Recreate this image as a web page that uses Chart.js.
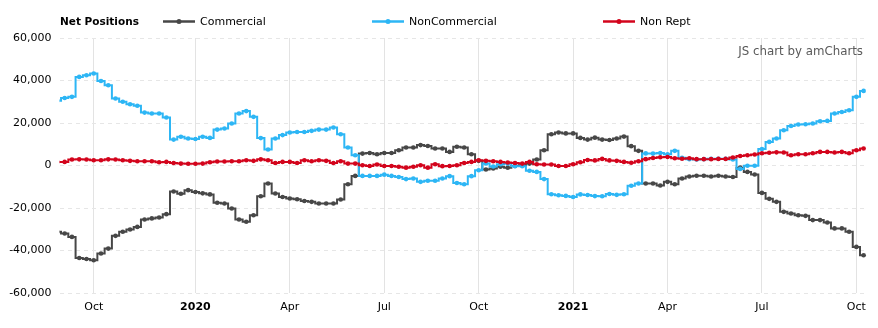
<!DOCTYPE html>
<html>
<head>
<meta charset="utf-8">
<script src="https://cdn.jsdelivr.net/npm/chart.js@4.4.1/dist/chart.umd.min.js"></script>
<style>
  html, body { margin: 0; padding: 0; background: #fff; }
  #wrap { width: 878px; height: 328px; }
</style>
</head>
<body>
<div id="wrap"><canvas id="cot" width="878" height="328"></canvas></div>
<script>
// weekly report dates (Tuesdays), 27 Aug 2019 .. 12 Oct 2021
const firstReport = Date.UTC(2019, 7, 27);
const reportDates = [];
for (let i = 0; i < 112; i++) reportDates.push(new Date(firstReport + i * 7 * 86400000));

const monthNames = ["Jan", "Feb", "Mar", "Apr", "May", "Jun", "Jul", "Aug", "Sep", "Oct", "Nov", "Dec"];
const legendTitle = "Net Positions";
const yTicks = [-60000, -40000, -20000, 0, 20000, 40000, 60000];

const commercial = [
  -31200, -32000, -33600, -43500, -44000, -44600, -41400, -39100, -33100, -31200,
  -30100, -28900, -25400, -24900, -24500, -22900, -12200, -13300, -11600, -12500,
  -13100, -13600, -17500, -17900, -20200, -25400, -26500, -23400, -14500, -8500,
  -13200, -14800, -15500, -15900, -16700, -17100, -17900, -17900, -17900, -16000,
  -8800, -4900, 5600, 5900, 5300, 5900, 5900, 7200, 8500, 8500,
  9600, 9200, 8000, 8000, 6400, 8800, 8500, 5300, 2200, -1900,
  -1400, -600, -1000, -200, 100, 900, 2800, 7200, 14700, 15500,
  15100, 15100, 13000, 12200, 13100, 12200, 12000, 12700, 13600, 9100,
  6900, -8500, -8500, -9400, -7700, -8800, -6100, -5200, -4800, -4800,
  -5200, -4800, -5200, -5400, -1000, -3000, -4200, -12900, -15700, -17100,
  -21800, -22600, -23400, -23700, -25700, -25700, -26800, -29600, -29600, -31200,
  -38300, -42200
];

const nonCommercial = [
  30500, 31800, 32300, 41700, 42500, 43300, 39800, 37800, 31500, 30000,
  28800, 28100, 24900, 24500, 24500, 22600, 12200, 13500, 12700, 12500,
  13500, 13000, 16900, 17400, 19800, 24500, 25600, 22900, 12900, 7500,
  12700, 14300, 15500, 15800, 15800, 16300, 16900, 16900, 17900, 14700,
  8500, 4800, -4900, -4900, -4900, -4300, -4900, -5400, -6400, -6100,
  -7700, -7200, -7200, -6100, -5000, -8200, -8800, -5000, -2200, 1000,
  -500, 600, 900, -300, -300, -2500, -3000, -6400, -13500, -14000,
  -14300, -14800, -13600, -13900, -14400, -14500, -13400, -13800, -13500, -9500,
  -8500, 5700, 5600, 5900, 5300, 6900, 3600, 3000, 2800, 3000,
  3200, 3200, 3200, 2800, -1600, -100, -100, 7800, 11100, 12700,
  16600, 18600, 19300, 19400, 19800, 20800, 21000, 24500, 25200, 26000,
  32300, 35100
];

const nonReportable = [
  1700, 1700, 2800, 2900, 2800, 2500, 2500, 2900, 2800, 2500,
  2200, 2000, 2000, 2000, 1500, 1700, 1200, 900, 800, 800,
  900, 1500, 1900, 1900, 2000, 2000, 2500, 2200, 2900, 2500,
  1200, 1700, 1700, 1200, 2500, 2000, 2500, 2200, 1200, 2000,
  900, 900, 100, -200, 500, -200, -200, -600, -1000, -600,
  100, -1000, 600, -300, -200, 100, 1200, 1700, 2500, 2200,
  2000, 1700, 1400, 1200, 900, 1700, 600, 500, 500, -200,
  -200, 600, 1500, 2600, 2400, 3100, 2400, 2200, 1700, 1300,
  2000, 3000, 3500, 3900, 4000, 3400, 3200, 3400, 3000, 3000,
  3000, 3100, 3100, 3800, 4500, 4800, 5200, 5800, 6000, 6200,
  6100, 4800, 5300, 5300, 5800, 6400, 6400, 6100, 6400, 5800,
  7200, 8000
];

const FONT = '"DejaVu Sans", Verdana, sans-serif';

const toPoints = arr => arr.map((v, i) => ({ x: i, y: v }));

// first report of each quarter gets a grid line
const quarterTicks = [];
reportDates.forEach((d, i) => {
  const m = d.getUTCMonth();
  if (m % 3 === 0 && i > 0 && reportDates[i - 1].getUTCMonth() !== m) {
    quarterTicks.push({ value: i, major: m === 0 });
  }
});

function lineSet(label, values, color, order) {
  return {
    label: label,
    data: toPoints(values),
    borderColor: color,
    backgroundColor: color,
    pointBackgroundColor: color,
    pointBorderColor: color,
    borderWidth: 2,
    pointRadius: 2.3,
    pointBorderWidth: 0,
    stepped: "middle",
    order: order
  };
}

const legendPlugin = {
  id: "topLegend",
  afterDraw(chart) {
    const ctx = chart.ctx;
    ctx.save();
    ctx.textBaseline = "middle";
    ctx.fillStyle = "#000";
    ctx.font = "bold 10.5px " + FONT;
    ctx.fillText(legendTitle, 60, 22);

    const starts = [163, 372, 603];
    ctx.font = "11px " + FONT;
    chart.data.datasets.forEach((ds, i) => {
      const x = starts[i];
      ctx.strokeStyle = ds.borderColor;
      ctx.lineWidth = 2.5;
      ctx.beginPath();
      ctx.moveTo(x, 21.5);
      ctx.lineTo(x + 32, 21.5);
      ctx.stroke();
      ctx.fillStyle = ds.borderColor;
      ctx.beginPath();
      ctx.arc(x + 16, 21.5, 2.5, 0, Math.PI * 2);
      ctx.fill();
      ctx.fillStyle = "#000";
      ctx.fillText(ds.label, x + 37, 22);
    });

    ctx.font = "11.8px " + FONT;
    ctx.fillStyle = "#5a5a5a";
    ctx.textAlign = "right";
    ctx.fillText("JS chart by amCharts", 863, 52);
    ctx.restore();
  }
};

new Chart(document.getElementById("cot"), {
  type: "line",
  data: {
    datasets: [
      lineSet("Commercial", commercial, "#474747", 3),
      lineSet("NonCommercial", nonCommercial, "#2db6f5", 2),
      lineSet("Non Rept", nonReportable, "#d3041c", 1)
    ]
  },
  options: {
    responsive: false,
    animation: false,
    layout: { padding: { left: 0, top: 38, right: 10, bottom: 0 } },
    plugins: {
      legend: { display: false },
      tooltip: { enabled: false }
    },
    scales: {
      x: {
        type: "linear",
        min: 0.3,
        max: 111.6,
        afterFit: s => { s.height = 35; },
        afterBuildTicks: s => { s.ticks = quarterTicks.map(t => ({ value: t.value, major: t.major })); },
        grid: { color: "#e3e3e3", lineWidth: 1, drawTicks: false },
        border: { display: false },
        ticks: {
          autoSkip: false,
          maxRotation: 0,
          padding: 8,
          color: "#000",
          font: c => ({ family: FONT, size: 11, weight: c.tick && c.tick.major ? "bold" : "normal" }),
          callback: v => {
            const d = reportDates[v];
            if (!d) return "";
            const m = d.getUTCMonth();
            return m === 0 ? String(d.getUTCFullYear()) : monthNames[m];
          }
        }
      },
      y: {
        min: -60000,
        max: 60000,
        afterFit: s => { s.width = 59.6; },
        afterBuildTicks: s => { s.ticks = yTicks.map(v => ({ value: v })); },
        grid: { color: "#e6e6e6", lineWidth: 1, drawTicks: false },
        border: { display: false, dash: [4, 4] },
        ticks: {
          padding: 8,
          color: "#000",
          font: { family: FONT, size: 11 },
          callback: v => v.toLocaleString("en-US")
        }
      }
    }
  },
  plugins: [legendPlugin]
});
</script>
</body>
</html>
